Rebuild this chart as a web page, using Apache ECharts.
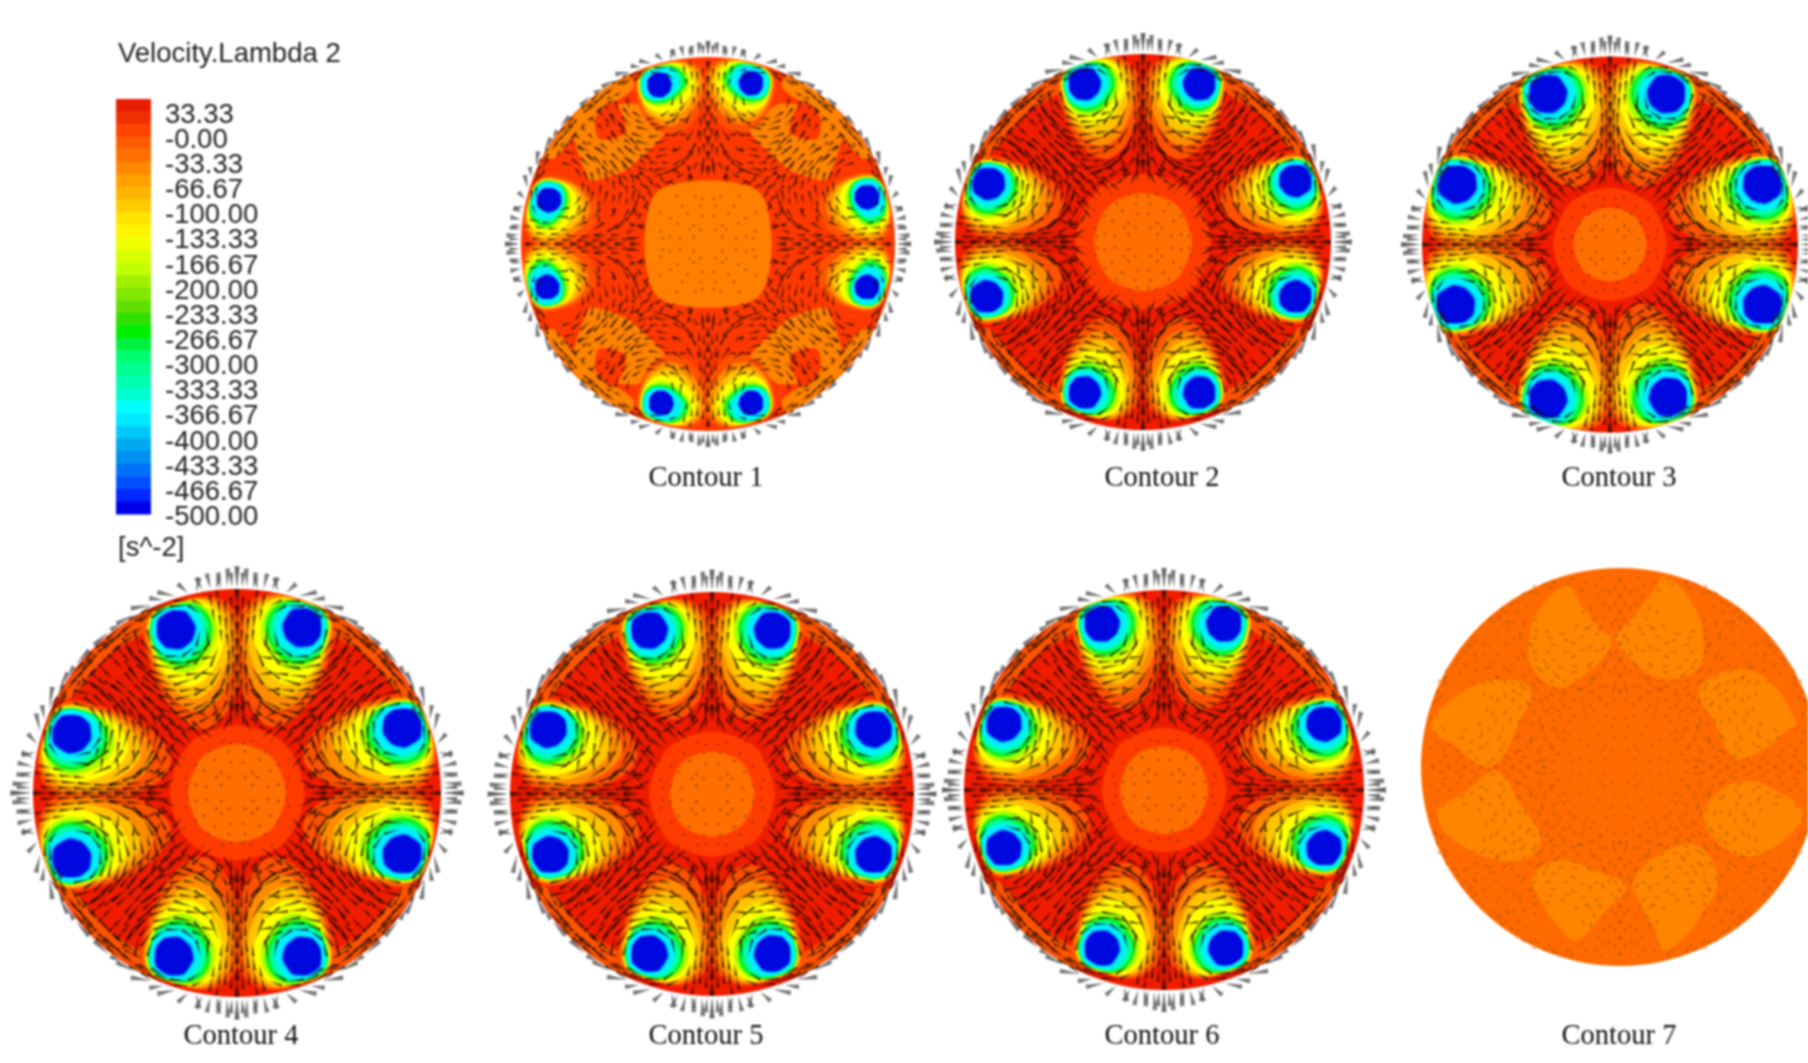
<!DOCTYPE html>
<html>
<head>
<meta charset="utf-8">
<style>
  html, body { margin: 0; padding: 0; background: #fff; overflow: hidden; }
  #chart { width: 1808px; height: 1063px; filter: blur(0.9px); }
</style>
<script src="https://cdn.jsdelivr.net/npm/echarts@6/dist/echarts.min.js"></script>
</head>
<body>
<div id="chart"></div>
<script>
// colour bar, top band first
const barColors = ['#e81c00','#f03000','#ff4400','#ff5c00','#ff7000','#ff8800','#ffa000','#ffb400','#ffcc00','#ffe400','#fff400','#f0ff00','#d8ff00','#c0ff00','#a0f000','#80e800','#60e000','#30e000','#00ee00','#00f040','#00ff70','#00ff90','#00ffb0','#00ffd0','#00ffff','#00e8ff','#00c8f8','#00a8f0','#0090f0','#0070f8','#0050ff','#0028ff','#0000e8']
const barTicks = ['33.33','-0.00','-33.33','-66.67','-100.00','-133.33','-166.67','-200.00','-233.33','-266.67','-300.00','-333.33','-366.67','-400.00','-433.33','-466.67','-500.00']

const panelNames = ['Contour 1','Contour 2','Contour 3','Contour 4','Contour 5','Contour 6','Contour 7']

// vortex core positions on the unit disc, same slot order in every panel
const vortices1 = [[-0.26,0.85],[0.23,0.86],[0.85,0.25],[0.85,-0.23],[0.23,-0.85],[-0.25,-0.85],[-0.86,-0.23],[-0.85,0.235]]
const vortices2 = [[-0.31,0.84],[0.30,0.84],[0.81,0.325],[0.81,-0.29],[0.30,-0.80],[-0.31,-0.80],[-0.83,-0.29],[-0.82,0.31]]
const vortices3 = [[-0.33,0.80],[0.30,0.80],[0.81,0.32],[0.81,-0.32],[0.31,-0.81],[-0.33,-0.82],[-0.82,-0.32],[-0.81,0.32]]
const vortices4 = [[-0.30,0.80],[0.32,0.81],[0.81,0.32],[0.81,-0.30],[0.32,-0.80],[-0.31,-0.80],[-0.81,-0.32],[-0.81,0.29]]
const vortices5 = [[-0.31,0.81],[0.30,0.81],[0.80,0.32],[0.80,-0.30],[0.30,-0.79],[-0.31,-0.79],[-0.80,-0.30],[-0.81,0.32]]
const vortices6 = [[-0.31,0.83],[0.30,0.83],[0.80,0.33],[0.80,-0.29],[0.31,-0.79],[-0.31,-0.79],[-0.80,-0.29],[-0.80,0.33]]

// per panel sizes
const vortexScale = [0.85, 0.95, 1.12, 1.05, 1.0, 0.97]
const tailScale = [0.7, 0.95, 1.0, 1.05, 1.0, 1.0]
const coreTrim = [0.85, 1, 1, 1, 1, 1]
const centerRadius = [0.34, 0.26, 0.195, 0.24, 0.21, 0.22, 0]
const ringRadius = [0, 0.36, 0.30, 0.33, 0.31, 0.31]

// tail heading of each slot in degrees (y up), and which side faces the symmetry axis
const slotAngles = [-74, -106, 196, 164, 106, 74, 16, -16]
const slotFlip = [1, -1, 1, -1, 1, -1, 1, -1]

// contour levels of one vortex: outer to inner, extents from the core centre
const levelColors = ['#ff5200','#ff8c00','#ffc400','#ffff00','#a8ff00','#10f020','#00ffa0','#00f0ff','#0090ff','#0008e0']
const levelTop    = [0.125,0.122,0.120,0.118,0.116,0.114,0.110,0.105,0.095,0.090]
const levelOuter  = [0.160,0.145,0.135,0.130,0.125,0.122,0.118,0.110,0.095,0.090]
const levelInner  = [0.300,0.270,0.245,0.220,0.190,0.170,0.150,0.125,0.098,0.090]
const levelTail   = [0.460,0.380,0.320,0.260,0.195,0.165,0.145,0.125,0.098,0.090]

const centerOutline = [[0,1],[0.7,0.74],[1,0],[0.7,-0.74],[0,-1],[-0.7,-0.74],[-1,0],[-0.7,0.74]]
const centerSquare = [[0,1],[0.8,0.82],[1,0],[0.8,-0.82],[0,-1],[-0.8,-0.82],[-1,0],[-0.8,0.82]]

// contour 1 patches, upper right quadrant, mirrored to the others
const bandPatch1 = [[0.63,0.72],[0.38,0.75],[0.22,0.61],[0.43,0.40],[0.63,0.34],[0.72,0.59]]
const redPatch1 = [[0.50,0.76],[0.60,0.68],[0.58,0.56],[0.44,0.60]]
const rimPatch = [[0.42,0.90],[0.66,0.75],[0.88,0.47],[0.82,0.46],[0.62,0.68],[0.40,0.83]]

// contour 7 lobes
const lobes7 = [
  [[-0.27,0.91],[-0.19,0.81],[-0.10,0.69],[-0.03,0.64],[-0.17,0.47],[-0.32,0.40],[-0.44,0.50],[-0.46,0.60],[-0.42,0.77]],
  [[0.23,0.96],[0.37,0.81],[0.42,0.64],[0.39,0.49],[0.23,0.44],[0.10,0.50],[-0.02,0.64],[0.07,0.76],[0.17,0.89]],
  [[0.40,0.39],[0.57,0.49],[0.74,0.44],[0.89,0.22],[0.85,0.19],[0.69,0.07],[0.57,0.05],[0.49,0.20]],
  [[0.42,-0.25],[0.50,-0.12],[0.64,-0.07],[0.77,-0.11],[0.92,-0.23],[0.82,-0.37],[0.64,-0.45],[0.49,-0.38]],
  [[0.07,-0.57],[0.23,-0.42],[0.40,-0.40],[0.49,-0.58],[0.39,-0.77],[0.34,-0.84],[0.22,-0.92],[0.17,-0.80],[0.10,-0.69]],
  [[-0.44,-0.55],[-0.30,-0.47],[-0.10,-0.53],[0.03,-0.60],[-0.07,-0.72],[-0.22,-0.87],[-0.32,-0.79],[-0.40,-0.67]],
  [[-0.62,-0.02],[-0.49,-0.20],[-0.40,-0.35],[-0.45,-0.45],[-0.60,-0.47],[-0.82,-0.38],[-0.92,-0.23],[-0.77,-0.12]],
  [[-0.95,0.21],[-0.80,0.37],[-0.62,0.44],[-0.45,0.39],[-0.52,0.20],[-0.59,0.05],[-0.69,0.00],[-0.82,0.10]]
]

// flow streaks in one octant (0 <= x <= y), each consecutive pair is one arrow
const flowPaths = [
  // round the vortex
  [[0.18,0.80],[0.20,0.72],[0.27,0.67],[0.35,0.67],[0.42,0.72],[0.44,0.80]],
  [[0.15,0.82],[0.14,0.72],[0.21,0.63],[0.31,0.61],[0.41,0.63],[0.48,0.70],[0.50,0.79]],
  [[0.09,0.72],[0.13,0.62],[0.21,0.56],[0.31,0.53],[0.41,0.56],[0.49,0.63],[0.54,0.72]],
  [[0.07,0.62],[0.13,0.53],[0.21,0.48],[0.30,0.46],[0.39,0.48],[0.47,0.54],[0.53,0.61]],
  [[0.06,0.54],[0.12,0.46],[0.21,0.41],[0.31,0.39],[0.40,0.42],[0.46,0.48]],
  [[0.16,0.92],[0.22,0.945],[0.31,0.94],[0.40,0.89],[0.48,0.84]],
  [[0.18,0.88],[0.24,0.92],[0.33,0.915],[0.42,0.86]],
  [[0.14,0.50],[0.21,0.51],[0.28,0.50],[0.36,0.51],[0.44,0.59]],
  [[0.10,0.58],[0.17,0.59],[0.25,0.58],[0.34,0.57],[0.43,0.60],[0.50,0.67]],
  [[0.10,0.67],[0.17,0.66],[0.25,0.64],[0.33,0.64],[0.41,0.67],[0.47,0.75]],
  [[0.12,0.76],[0.16,0.70],[0.22,0.68]],
  // wall side between vortices
  [[0.43,0.89],[0.50,0.84],[0.56,0.79],[0.62,0.74],[0.68,0.69]],
  [[0.53,0.83],[0.59,0.76],[0.65,0.71]],
  [[0.56,0.74],[0.61,0.69],[0.65,0.65]],
  [[0.60,0.77],[0.66,0.72]],
  [[0.42,0.92],[0.47,0.88],[0.53,0.85]],
  [[0.36,0.93],[0.44,0.885]],
  [[0.58,0.805],[0.64,0.755],[0.69,0.71]],
  [[0.52,0.64],[0.56,0.68],[0.59,0.72]],
  [[0.50,0.78],[0.55,0.74],[0.60,0.70]],
  [[0.46,0.81],[0.51,0.79],[0.55,0.77]],
  [[0.44,0.60],[0.49,0.66],[0.53,0.71],[0.56,0.76]],
  [[0.49,0.57],[0.53,0.62],[0.55,0.65]],
  [[0.56,0.61],[0.60,0.65],[0.63,0.68]],
  // along the axis
  [[0.005,0.36],[0.005,0.44],[0.005,0.52],[0.005,0.60],[0.005,0.68],[0.005,0.76],[0.005,0.84],[0.005,0.92],[0.005,1.0]],
  [[0.025,0.40],[0.025,0.48],[0.02,0.56],[0.02,0.64],[0.02,0.72],[0.025,0.80],[0.025,0.88],[0.03,0.96]],
  [[0.05,0.46],[0.045,0.54],[0.04,0.62],[0.04,0.70],[0.05,0.78],[0.055,0.86],[0.06,0.94]],
  [[0.075,0.74],[0.08,0.80],[0.085,0.87],[0.09,0.94],[0.10,0.99]],
  [[0.11,0.84],[0.12,0.90],[0.135,0.97]],
  [[0.03,0.32],[0.03,0.38],[0.035,0.45]],
  [[0.09,0.33],[0.10,0.39],[0.11,0.43]],
  // fan in towards the axis
  [[0.20,0.38],[0.14,0.43],[0.09,0.49],[0.06,0.56],[0.04,0.63]],
  [[0.30,0.36],[0.22,0.38],[0.16,0.41],[0.11,0.45],[0.07,0.51]],
  [[0.12,0.34],[0.08,0.39],[0.05,0.45]],
  [[0.07,0.30],[0.04,0.36],[0.02,0.43]],
  [[0.16,0.30],[0.11,0.33],[0.07,0.37]],
  [[0.08,0.42],[0.12,0.38],[0.18,0.35],[0.24,0.31]],
  [[0.14,0.37],[0.19,0.40],[0.25,0.37]],
  // out along the diagonal
  [[0.22,0.24],[0.27,0.30],[0.33,0.35],[0.38,0.41],[0.44,0.47],[0.50,0.53],[0.55,0.59]],
  [[0.17,0.27],[0.22,0.32],[0.27,0.37],[0.33,0.42],[0.38,0.47],[0.44,0.52]],
  [[0.12,0.27],[0.17,0.31],[0.22,0.35]],
  [[0.24,0.29],[0.29,0.33],[0.34,0.37],[0.38,0.38]],
  [[0.30,0.44],[0.35,0.49],[0.41,0.53],[0.46,0.57]],
  [[0.20,0.44],[0.26,0.43],[0.33,0.44]]
]

// slow field in the middle, [x, y, dx, dy] in one octant
const centreDashes = [[0.03,0.07,0.015,0.01],[0.07,0.11,0.01,-0.015],[0.02,0.15,0.015,0],[0.10,0.17,0.015,-0.01],[0.05,0.20,-0.015,0.005],[0.13,0.21,0.012,-0.012],[0.02,0.24,0.015,0.005],[0.08,0.25,-0.015,0.005],[0.16,0.25,0.012,0.012]]

// arrows leaving the disc, [x, y, dx, dy] in one octant
const rimArrows = [[0.0,1.01,0,0.10],[0.025,1.01,0.005,0.07],[0.05,1.01,-0.005,0.09],[0.08,1.0,0.012,0.08],[0.10,1.0,-0.01,0.06],[0.13,1.0,0.018,0.075],[0.17,0.995,0.03,0.06],[0.20,0.985,-0.015,0.07],[0.24,0.98,0.05,0.045],[0.30,0.965,0.09,0.02],[0.36,0.945,0.07,0.01],[0.42,0.92,0.10,-0.015],[0.50,0.875,0.09,-0.045],[0.57,0.83,0.05,-0.03],[0.63,0.79,0.07,-0.065]]

const discPixels = [[708,244,187],[1143,242,188],[1610,244.5,188],[237,793,204],[712,794,202],[1164,790,200],[1620,767,199]]
const labelPixels = [[701,476],[1157,476],[1614,476],[236,1034],[701,1034],[1157,1034],[1614,1034]]
const allVortices = [vortices1, vortices2, vortices3, vortices4, vortices5, vortices6]
const VIEW = 1.15

const mirror8 = (x, y) => [[x,y],[-x,y],[x,-y],[-x,-y],[y,x],[-y,x],[y,-x],[-y,-x]]
const mirror4 = (pts) => [[1,1],[-1,1],[1,-1],[-1,-1]].map(([a,b]) => pts.map(([x,y]) => [x*a,y*b]))

const vortexPolys = (list, scale, tail, trim) => {
  const polys = []
  levelColors.forEach((color, lvl) => {
    const k = lvl >= 8 ? scale*trim : scale
    const t = levelTop[lvl]*k, o = levelOuter[lvl]*k, i = levelInner[lvl]*k
    const b = lvl >= 8 ? levelTail[lvl]*k : levelTail[lvl]*k*tail
    const outline = [[-t,0.1*(i-o)],[-t*0.74,i*0.74],[0.12*b,i],[b*0.72,i*0.66],[b,0.1*(i-o)],[b*0.72,-o*0.74],[0.12*b,-o],[-t*0.74,-o*0.74]]
    list.forEach(([cx,cy], s) => {
      const a = slotAngles[s]*Math.PI/180
      const ux = Math.cos(a), uy = Math.sin(a)
      const vx = -uy*slotFlip[s], vy = ux*slotFlip[s]
      polys.push({ color, smooth: lvl >= 8 ? 0.2 : 0.4, clip: true, pts: outline.map(([u,v]) => [cx+ux*u+vx*v, cy+uy*u+vy*v]) })
    })
  })
  return polys
}

const panelPolys = (p) => {
  const polys = []
  if (p === 6) {
    polys.push({ color: '#ff6a00', r: 1 })
    lobes7.forEach((pts) => polys.push({ color: '#ff8400', smooth: 0.4, clip: true, pts }))
    return polys
  }
  if (p === 0) {
    polys.push({ color: '#ff3800', r: 1 })
    mirror4(bandPatch1).forEach((pts) => polys.push({ color: '#ff8200', smooth: 0.15, pts }))
    mirror4(rimPatch).forEach((pts) => polys.push({ color: '#ff8200', smooth: 0.3, clip: true, pts }))
    mirror4(redPatch1).forEach((pts) => polys.push({ color: '#ff3800', smooth: 0.3, pts }))
  } else {
    polys.push({ color: '#f01c00', r: 1 })
    mirror4(rimPatch).forEach((pts) => polys.push({ color: '#ff5400', smooth: 0.3, clip: true, pts }))
    polys.push({ color: '#ff3c00', smooth: 0.3, pts: centerOutline.map(([x,y]) => [x*ringRadius[p], y*ringRadius[p]]) })
  }
  polys.push(...vortexPolys(allVortices[p], vortexScale[p], tailScale[p], coreTrim[p]))
  const outline = p === 0 ? centerSquare : centerOutline
  polys.push({ color: p === 0 ? '#ff8000' : '#ff6e00', smooth: 0.3, pts: outline.map(([x,y]) => [x*centerRadius[p], y*centerRadius[p]]) })
  return polys
}

const mirrorTable = (table) => {
  const out = []
  table.forEach(([x,y,dx,dy]) => {
    const d = mirror8(dx, dy)
    mirror8(x, y).forEach((m, k) => out.push([m[0], m[1], d[k][0], d[k][1]]))
  })
  return out
}
const flowTable = []
flowPaths.forEach((path) => {
  for (let i = 0; i + 1 < path.length; i++) {
    flowTable.push([path[i][0], path[i][1], path[i+1][0]-path[i][0], path[i+1][1]-path[i][1]])
  }
})

const polySeries = (polys, idx) => ({
  type: 'custom', xAxisIndex: idx, yAxisIndex: idx, silent: true, animation: false,
  encode: { x: 0, y: 1 },
  data: polys.map((q) => (q.r ? [0, 0] : q.pts[0])),
  renderItem: (params, api) => {
    const q = polys[params.dataIndex]
    const c = api.coord([0, 0]), e = api.coord([1, 0])
    const r = e[0]-c[0]
    if (q.r) {
      return { type: 'circle', shape: { cx: c[0], cy: c[1], r }, style: { fill: q.color } }
    }
    const el = { type: 'polygon', shape: { points: q.pts.map((pt) => api.coord(pt)), smooth: q.smooth || 0 }, style: { fill: q.color } }
    if (q.clip) el.clipPath = { type: 'circle', shape: { cx: c[0], cy: c[1], r } }
    return el
  }
})

const arrowSeries = (arrows, idx, len, width, color, opacity) => ({
  type: 'custom', xAxisIndex: idx, yAxisIndex: idx, silent: true, animation: false,
  encode: { x: 0, y: 1 },
  data: arrows,
  renderItem: (params, api) => {
    const a = arrows[params.dataIndex]
    const s = api.coord([a[0], a[1]]), h = api.coord([a[0]+a[2]*len, a[1]+a[3]*len])
    const lx = h[0]-s[0], ly = h[1]-s[1]
    const n = Math.hypot(lx, ly) || 1
    const wx = -ly/n*width, wy = lx/n*width
    return { type: 'polygon', shape: { points: [s, [h[0]+wx, h[1]+wy], [h[0]-wx, h[1]-wy]] }, style: { fill: color, opacity } }
  }
})

const grids = [], xAxes = [], yAxes = [], series = []
const flow = mirrorTable(flowTable), rim = mirrorTable(rimArrows), centre = mirrorTable(centreDashes)
discPixels.forEach(([cx, cy, R], i) => {
  // keep every grid on the page, the disc itself may run past it
  const view = Math.min(VIEW, (1808-cx)/R)
  const half = R*view
  grids.push({ left: cx-half, top: cy-half, width: half*2, height: half*2 })
  xAxes.push({ gridIndex: i, type: 'value', min: -view, max: view, show: false })
  yAxes.push({ gridIndex: i, type: 'value', min: -view, max: view, show: false })
  series.push(polySeries(panelPolys(i), i))
  const outside = flow.filter((a) => Math.hypot(a[0], a[1]) >= centerRadius[i])
  if (i === 6) {
    series.push(arrowSeries(flow, i, 0.35, 1.1, '#8a4a00', 0.5))
    series.push(arrowSeries(centre, i, 1.0, 1, '#8a4a00', 0.6))
  } else {
    series.push(arrowSeries(outside, i, i === 0 ? 0.72 : 1.0, i === 0 ? 1.15 : 1.35, '#1a0a00', 0.72))
    series.push(arrowSeries(centre, i, 1.0, 1, '#5a2a00', 0.8))
    series.push(arrowSeries(rim, i, i === 0 ? 0.75 : 1.0, 2.4, '#606060', 0.85))
  }
})

// colour bar axes, the bottom label sits on its own axis because echarts drops a neighbour of a forced min label
const barIdx = discPixels.length
const BAND = 550/33
const barBands = barColors.map((c, i) => [0, 50-i*BAND, 50-(i+1)*BAND])
const barLabelStyle = { margin: 14, fontFamily: 'Liberation Sans', fontSize: 27.5, color: '#222', hideOverlap: false, lineHeight: 7, verticalAlign: 'top' }
grids.push({ left: 116, top: 99, width: 35, height: 415 })
xAxes.push({ gridIndex: barIdx, type: 'value', min: 0, max: 1, show: false })
yAxes.push({
  gridIndex: barIdx, type: 'value', position: 'right', min: -500, max: 50, interval: 100/3,
  splitLine: { show: false },
  axisLine: { show: false },
  axisTick: { show: true, length: 6, lineStyle: { color: '#333' } },
  axisLabel: {
    ...barLabelStyle, showMinLabel: false, showMaxLabel: false,
    formatter: (v) => (v > 40 ? '' : barTicks[Math.round((100/3-v)/(100/3))] || '')
  }
})
yAxes.push({
  gridIndex: barIdx, type: 'value', position: 'right', min: -500, max: 50, interval: 550,
  splitLine: { show: false },
  axisLine: { show: false },
  axisTick: { show: false },
  axisLabel: { ...barLabelStyle, showMinLabel: true, showMaxLabel: false, formatter: (v) => (v < -490 ? barTicks[16] : '') }
})
series.push({
  type: 'custom', xAxisIndex: barIdx, yAxisIndex: barIdx, silent: true, animation: false,
  encode: { x: 0, y: [1, 2] },
  data: barBands,
  renderItem: (params, api) => {
    const a = api.coord([0, api.value(1)]), b = api.coord([1, api.value(2)])
    return { type: 'rect', shape: { x: a[0], y: a[1], width: b[0]-a[0], height: b[1]-a[1]+0.5 }, style: { fill: barColors[params.dataIndex] } }
  }
})

const titles = [
  { text: 'Velocity.Lambda 2', left: 113, top: 35, textStyle: { fontFamily: 'Liberation Sans', fontSize: 27.5, fontWeight: 'normal', color: '#222' } },
  { text: '[s^-2]', left: 113, top: 529, textStyle: { fontFamily: 'Liberation Sans', fontSize: 27.5, fontWeight: 'normal', color: '#222' } }
]
panelNames.forEach((name, i) => {
  titles.push({
    text: name, left: labelPixels[i][0], top: labelPixels[i][1]-17, textAlign: 'center',
    textStyle: { fontFamily: 'Liberation Serif', fontSize: 28.5, fontWeight: 'normal', color: '#111' }
  })
})

const chart = echarts.init(document.getElementById('chart'))
chart.setOption({
  backgroundColor: '#fff',
  animation: false,
  title: titles,
  grid: grids,
  xAxis: xAxes,
  yAxis: yAxes,
  series
})
</script>
</body>
</html>
